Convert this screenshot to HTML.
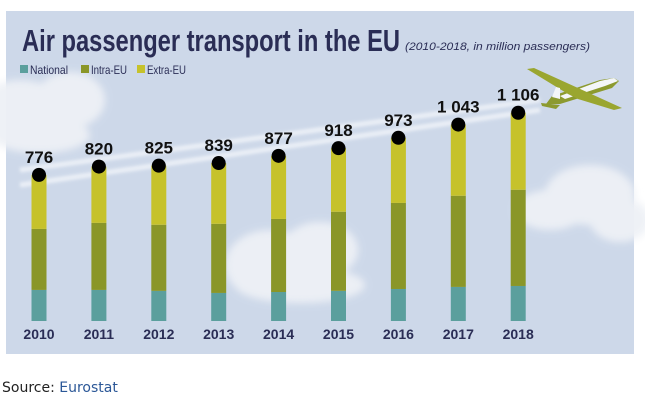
<!DOCTYPE html>
<html><head><meta charset="utf-8">
<style>
body{margin:0;background:#fff;width:645px;height:404px;overflow:hidden;font-family:"Liberation Sans",sans-serif}
#src{position:absolute;left:2px;top:380px;font-family:"DejaVu Sans",sans-serif;font-size:14px;color:#222}
#src a{color:#2b5797;text-decoration:none}
</style></head><body>
<svg id="chart" width="645" height="404" style="position:absolute;left:0;top:0">
<defs>
<filter id="blur" x="-20%" y="-20%" width="140%" height="140%"><feGaussianBlur stdDeviation="4"/></filter>
<filter id="blur2"><feGaussianBlur stdDeviation="1.5"/></filter>
</defs>
<rect x="6" y="11" width="628" height="343" fill="#cdd8e9"/>
<g fill="#eef1f6" filter="url(#blur)" opacity="0.95">
<ellipse cx="20" cy="110" rx="45" ry="30"/><ellipse cx="70" cy="100" rx="35" ry="28"/><ellipse cx="40" cy="135" rx="50" ry="18"/>
<ellipse cx="270" cy="265" rx="45" ry="35"/><ellipse cx="320" cy="250" rx="38" ry="28"/><ellipse cx="300" cy="285" rx="65" ry="18"/>
<ellipse cx="590" cy="195" rx="45" ry="30"/><ellipse cx="550" cy="210" rx="35" ry="20"/><ellipse cx="620" cy="220" rx="30" ry="22"/>
</g>
<g stroke="#eef2f8" stroke-width="5" fill="none" filter="url(#blur2)" opacity="0.9">
<path d="M20,170 L540,100"/><path d="M20,185 L540,110"/>
</g>
<g>
<path d="M546,104 L552,96 L600,80 L614,78 L619,81 L612,88 L560,104 Z" fill="#8c9a2f"/>
<path d="M560,96 L600,81 L614,78 L618,81 L605,86 L565,99 Z" fill="#f4f6f8"/>
<path d="M527,69 L534,68 L622,108 L614,110 L578,99 L568,94 Z" fill="#9aa630"/>
<path d="M541,103 L560,105 L556,109 L542,106 Z" fill="#8c9a2f"/>
<path d="M552,97 L556,87 L560,88 L560,99 Z" fill="#f4f6f8"/>
</g>
<text x="22" y="51" font-size="31" font-weight="bold" fill="#2a2d55" textLength="378" lengthAdjust="spacingAndGlyphs">Air passenger transport in the EU</text>
<text x="405" y="50" font-size="11" font-style="italic" fill="#2a2d55" textLength="185" lengthAdjust="spacingAndGlyphs">(2010-2018, in million passengers)</text>
<g id="legend"></g>
<g id="bars"></g>
</svg>
<div id="src">Source: <a>Eurostat</a></div>
<script>
const years=["2010","2011","2012","2013","2014","2015","2016","2017","2018"];
const totals=[776,820,825,839,877,918,973,1043,1106];
const totalLabels=["776","820","825","839","877","918","973","1 043","1 106"];
const national=[165,165,160,149,154,160,170,181,186];
const intraEU=[324,356,351,367,388,420,457,484,511];
const seriesNames=["National","Intra-EU","Extra-EU"];
const colors=["#5b9f9d","#8a9628","#c6c22b"];
const NS="http://www.w3.org/2000/svg";
const baseY=321, k=0.1883, x0=39, step=59.9, bw=15;
const yv=v=>baseY-v*k, xc=i=>x0+i*step;
function mk(t,a){const e=document.createElementNS(NS,t);for(const n in a)e.setAttribute(n,a[n]);return e;}
const lg=document.getElementById('legend');
const lx=[20,81,137];
const lw=[38,36,39];
seriesNames.forEach((s,i)=>{
 const r=mk('rect',{x:lx[i],y:65,width:8,height:8,fill:colors[i]});
 
 
 lg.appendChild(r);
 const t=mk('text',{x:lx[i]+10,y:74,'font-size':12,fill:'#2a2d55',textLength:lw[i],lengthAdjust:'spacingAndGlyphs'});t.textContent=s;
 
 
 lg.appendChild(t);
});
const g=document.getElementById('bars');
years.forEach((yr,i)=>{
 const segs=[national[i],intraEU[i],totals[i]-national[i]-intraEU[i]];
 let acc=0;
 segs.forEach((v,j)=>{
  const r=mk('rect',{x:xc(i)-bw/2,y:yv(acc+v),width:bw,height:v*k,fill:colors[j]});
  
  
  g.appendChild(r);acc+=v;
 });
 const c=mk('circle',{cx:xc(i),cy:yv(totals[i]),r:7,fill:'#000'});
 
 
 g.appendChild(c);
 const t=mk('text',{x:xc(i),y:yv(totals[i])-12,'font-size':17,'font-weight':'bold','text-anchor':'middle',fill:'#111'});
 t.textContent=totalLabels[i];
 
 
 g.appendChild(t);
 const xl=mk('text',{x:xc(i),y:339,'font-size':14,'font-weight':'bold','text-anchor':'middle',fill:'#2a2d55'});
 xl.textContent=yr;
 
 
 g.appendChild(xl);
});
</script>
</body></html>
